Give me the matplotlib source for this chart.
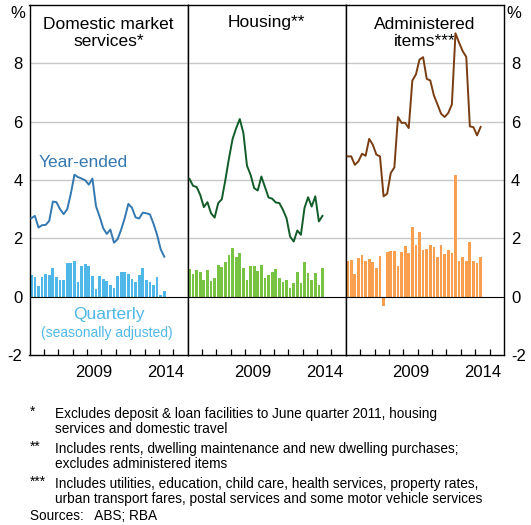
import numpy as np
import pandas as pd
import matplotlib
matplotlib.use("Agg")
import matplotlib.pyplot as plt
from matplotlib.ticker import NullFormatter, FixedFormatter

plt.rcParams['font.family'] = ['Liberation Sans', 'DejaVu Sans']
plt.rcParams['axes.unicode_minus'] = False

### data (quarterly, 2005Q1 - 2014Q2)
quarters = pd.period_range('2005Q1', '2014Q2', freq='Q')

dms_year = [2.69, 2.77, 2.37, 2.45, 2.46, 2.60, 3.26, 3.24, 3.00, 2.83,
            3.00, 3.53, 4.18, 4.10, 4.05, 3.99, 3.84, 4.05, 3.10, 2.75,
            2.35, 2.15, 2.30, 1.85, 1.97, 2.30, 2.70, 3.18, 3.05, 2.72,
            2.68, 2.88, 2.86, 2.82, 2.50, 2.12, 1.62, 1.37]
dms_qtr = [0.75, 0.66, 0.35, 0.69, 0.79, 0.75, 1.00, 0.69, 0.58, 0.58,
           1.14, 1.14, 1.24, 0.52, 1.06, 1.11, 1.06, 0.72, 0.28, 0.72,
           0.62, 0.54, 0.40, 0.29, 0.72, 0.84, 0.84, 0.77, 0.61, 0.52,
           0.75, 0.98, 0.58, 0.49, 0.40, 0.66, 0.06, 0.20]

housing_year = [4.04, 3.80, 3.76, 3.49, 3.07, 3.24, 2.86, 2.71, 3.21, 3.34,
                4.01, 4.75, 5.41, 5.78, 6.09, 5.61, 4.49, 4.18, 3.72, 3.64,
                4.12, 3.76, 3.40, 3.36, 3.23, 3.21, 2.98, 2.69, 2.06, 1.89,
                2.27, 2.12, 3.04, 3.41, 3.09, 3.44, 2.58, 2.77]
housing_qtr = [0.95, 0.77, 0.92, 0.84, 0.57, 0.92, 0.54, 0.65, 1.08, 1.03,
               1.19, 1.43, 1.66, 1.35, 1.49, 0.97, 0.57, 1.05, 1.05, 0.89,
               1.10, 0.63, 0.74, 0.86, 0.94, 0.63, 0.52, 0.57, 0.31, 0.48,
               0.84, 0.46, 1.20, 0.80, 0.57, 0.80, 0.40, 0.97]

admin_year = [4.81, 4.81, 4.52, 4.64, 4.90, 4.83, 5.41, 5.21, 4.87, 4.81,
              3.44, 3.53, 4.24, 4.43, 6.16, 5.96, 5.96, 5.78, 7.41, 7.62,
              8.13, 8.21, 7.47, 7.41, 6.90, 6.59, 6.27, 6.16, 6.30, 6.59,
              9.03, 8.71, 8.42, 8.22, 5.84, 5.81, 5.53, 5.82]
admin_qtr = [1.24, 1.26, 0.78, 1.31, 1.43, 1.21, 1.28, 1.19, 0.97, 1.41,
             -0.32, 1.53, 1.55, 1.58, 1.04, 1.53, 1.75, 1.49, 2.38, 1.76,
             2.21, 1.60, 1.65, 1.78, 1.72, 1.35, 1.76, 1.47, 1.60, 1.49,
             4.18, 1.24, 1.35, 1.24, 1.89, 1.24, 1.16, 1.35]

year_ticks = list(range(2006, 2016))
year_labels = ['2009', '2014']

titles = ["Domestic market\nservices*", "Housing**", "Administered\nitems***"]
line_colors = ['#3478b0', '#125c2a', '#7a3d12']
bar_colors = ['#50b8e8', '#78c244', '#f9a050']
year_series = [dms_year, housing_year, admin_year]
qtr_series = [dms_qtr, housing_qtr, admin_qtr]

footnotes = [
    ("*", "Excludes deposit & loan facilities to June quarter 2011, housing\nservices and domestic travel"),
    ("**", "Includes rents, dwelling maintenance and new dwelling purchases;\nexcludes administered items"),
    ("***", "Includes utilities, education, child care, health services, property rates,\nurban transport fares, postal services and some motor vehicle services"),
]
###---------------------------------------------------------------------

x = np.array([q.year + (q.quarter - 1) / 4 + 0.125 for q in quarters])

fig = plt.figure(figsize=(5.31, 5.25), dpi=100)
W, H = 531, 525
left, right, top, bottom = 29.5, 504, 5, 355
pw = (right - left) / 3

axes = []
for i in range(3):
    ax = fig.add_axes([(left + i * pw) / W, 1 - bottom / H, pw / W, (bottom - top) / H])
    axes.append(ax)
    ax.set_xlim(2005, 2016)
    ax.set_ylim(-2, 10)
    for g in [2, 4, 6, 8]:
        ax.axhline(g, color='#c8c8c8', lw=1.0, zorder=0)
    ax.axhline(0, color='black', lw=0.8, zorder=3)
    ax.bar(x, qtr_series[i], width=0.19, color=bar_colors[i], zorder=2)
    ax.plot(x, year_series[i], color=line_colors[i], lw=1.4, zorder=4)

    # year boundary ticks (unlabelled), labels centred mid-year
    ax.set_xticks(year_ticks)
    ax.set_xticks([int(y) + 0.5 for y in year_labels], minor=True)
    ax.xaxis.set_major_formatter(NullFormatter())
    ax.xaxis.set_minor_formatter(FixedFormatter(year_labels))
    ax.tick_params(axis='x', which='major', direction='in', length=4, width=0.9,
                   color='black', bottom=True, top=False)
    ax.tick_params(axis='x', which='minor', length=0, labelsize=12, pad=7)
    ax.set_yticks([-2, 0, 2, 4, 6, 8])
    ax.tick_params(axis='y', which='both', length=0, labelsize=12, pad=5)
    if i == 0:
        ax.tick_params(axis='y', labelleft=True, labelright=False)
    elif i == 2:
        ax.tick_params(axis='y', labelleft=False, labelright=True)
    else:
        ax.tick_params(axis='y', labelleft=False, labelright=False)
    for s in ax.spines.values():
        s.set_linewidth(1.0)

    if "\n" in titles[i]:
        ax.text(2010.5, 9.03, titles[i], ha='center', va='center', fontsize=12.5, linespacing=1.2)
    else:
        ax.text(2010.5, 9.41, titles[i], ha='center', va='center', fontsize=12.5)

axes[0].text(2005.6, 4.6, "Year-ended", color=line_colors[0], fontsize=12.5, va='center', ha='left')
axes[0].text(2010.5, -0.6, "Quarterly", color=bar_colors[0], fontsize=12.5, va='center', ha='center')
axes[0].text(2010.4, -1.25, "(seasonally adjusted)", color=bar_colors[0], fontsize=10, va='center', ha='center')

fig.text(18 / W, 1 - 14 / H, "%", fontsize=12, ha='center', va='center')
fig.text(514 / W, 1 - 14 / H, "%", fontsize=12, ha='center', va='center')

### footnotes
y0 = 412
for mark, txt in footnotes:
    fig.text(30 / W, 1 - y0 / H, mark, fontsize=9.8, va='center', ha='left')
    fig.text(55 / W, 1 - (y0 - 5) / H, txt, fontsize=9.8, va='top', ha='left', linespacing=1.1)
    y0 += 35
fig.text(30 / W, 1 - (y0 - 1) / H, "Sources:   ABS; RBA", fontsize=9.8, va='center', ha='left')

fig.savefig("out.png", dpi=100)
